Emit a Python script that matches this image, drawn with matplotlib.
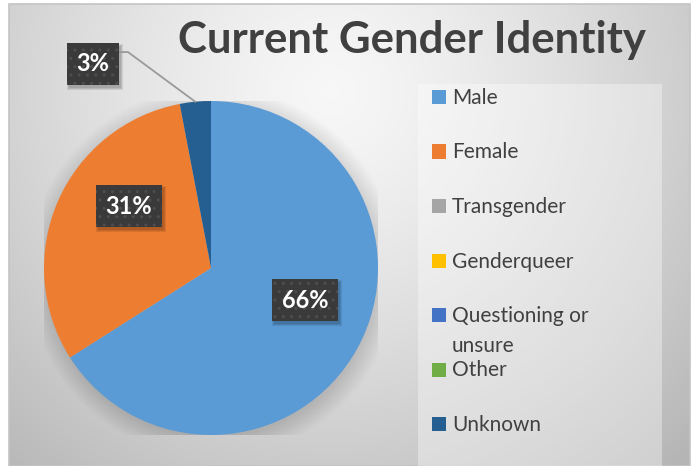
import numpy as np
import matplotlib
matplotlib.use('Agg')
import matplotlib.pyplot as plt
from matplotlib.patches import Rectangle, Circle

# data
categories = ['Male', 'Female', 'Transgender', 'Genderqueer',
              'Questioning or\nunsure', 'Other', 'Unknown']
shares = [66, 31, 0, 0, 0, 0, 3]
colors = ['#5b9bd5', '#ed7d31', '#a5a5a5', '#ffc000', '#4472c4', '#70ad47', '#255e91']
title = 'Current Gender Identity'

W, H = 694, 466
plt.rcParams['font.family'] = ['Lato', 'DejaVu Sans']

def fx(x):
    return x / W

def fy(y):
    return 1 - y / H

fig = plt.figure(figsize=(W / 100, H / 100), dpi=100)
fig.patch.set_facecolor('white')

# chart area background, radial grey gradient
bg = fig.add_axes([fx(9), 0, fx(690) - fx(9), fy(4)])
bg.set_axis_off()
yy, xx = np.mgrid[4:466, 9:690]
d = np.hypot(xx - 330, yy - 90) / 450
shade = 0.97 - 0.22 * d ** 1.3
bg.imshow(np.dstack([shade] * 3).clip(0, 1), aspect='auto', extent=(0, 1, 0, 1))
bg.set_xlim(0, 1)
bg.set_ylim(0, 1)
bg.add_patch(Rectangle((0, 0), 1, 1, transform=bg.transAxes, fill=False,
                       edgecolor='#c4c4c4', lw=1.2, clip_on=False))

# legend panel
fig.patches.append(Rectangle((fx(418), 0), fx(662) - fx(418), fy(84), transform=fig.transFigure,
                             facecolor='white', alpha=0.35, edgecolor='none'))

# title
fig.text(fx(178), fy(53), title, fontsize=31.5, fontweight='bold', color='#404040',
         ha='left', va='baseline')

# pie
cx, cy, r = 211, 268, 167
ax = fig.add_axes([fx(cx - r), fy(cy + r), 2 * r / W, 2 * r / H])
for k in range(16):
    ax.add_patch(Circle((0.012, -0.025), 0.99 + 0.008 * k, color='black', alpha=0.008, lw=0, zorder=0))
wedges, texts, autotexts = ax.pie(shares, colors=colors, startangle=90, counterclock=False,
                                  autopct='%1.0f%%', pctdistance=0.6,
                                  wedgeprops=dict(linewidth=0))
ax.set_xlim(-1, 1)
ax.set_ylim(-1, 1)
ax.set_aspect('equal')

label_xy = {'Male': (0.563, -0.192), 'Female': (-0.491, 0.371), 'Unknown': (-0.707, 1.222)}
shown = []
for cat, val, t in zip(categories, shares, autotexts):
    if val == 0:
        t.set_visible(False)
        continue
    t.set_position(label_xy[cat])
    t.set_color('white')
    t.set_fontsize(17)
    t.set_fontweight('bold')
    t.set_ha('center')
    t.set_va('center')
    t.set_clip_on(False)
    t.set_zorder(6)
    t.set_bbox(dict(boxstyle='square,pad=0.42', facecolor='#3a3a3a', edgecolor='#4e4e4e',
                    hatch='..', linewidth=0))
    shown.append(t)

# leader line for the small slice
ang = np.deg2rad(90 - 3.6 * (sum(shares) - shares[-1] / 2))
ax.plot([-0.557, -0.497, np.cos(ang)], [1.293, 1.293, np.sin(ang)], color='#9a9a9a',
        lw=1.3, clip_on=False, zorder=5)

# soft drop shadows under the label boxes
fig.canvas.draw()
rend = fig.canvas.get_renderer()
inv = ax.transData.inverted()
for t in shown:
    bb = t.get_bbox_patch().get_window_extent(rend)
    for k in range(3):
        (x0, y0), (x1, y1) = inv.transform([(bb.x0 + 2 - k, bb.y0 - 3 - k),
                                           (bb.x1 + 2 + k, bb.y1 - 3 + k)])
        ax.add_patch(Rectangle((x0, y0), x1 - x0, y1 - y0, facecolor='black', alpha=0.09,
                               edgecolor='none', zorder=4, clip_on=False))

# legend
for i, (cat, col) in enumerate(zip(categories, colors)):
    yc = 97 + 54.5 * i
    fig.patches.append(Rectangle((fx(432), fy(yc + 7)), 14 / W, 14 / H,
                                 transform=fig.transFigure, facecolor=col, edgecolor='none'))
    for j, line in enumerate(cat.split('\n')):
        fig.text(fx(452), fy(yc + 7 + 30 * j), line, fontsize=15, color='#404040',
                 ha='left', va='baseline')

fig.savefig('out.png', dpi=100)
